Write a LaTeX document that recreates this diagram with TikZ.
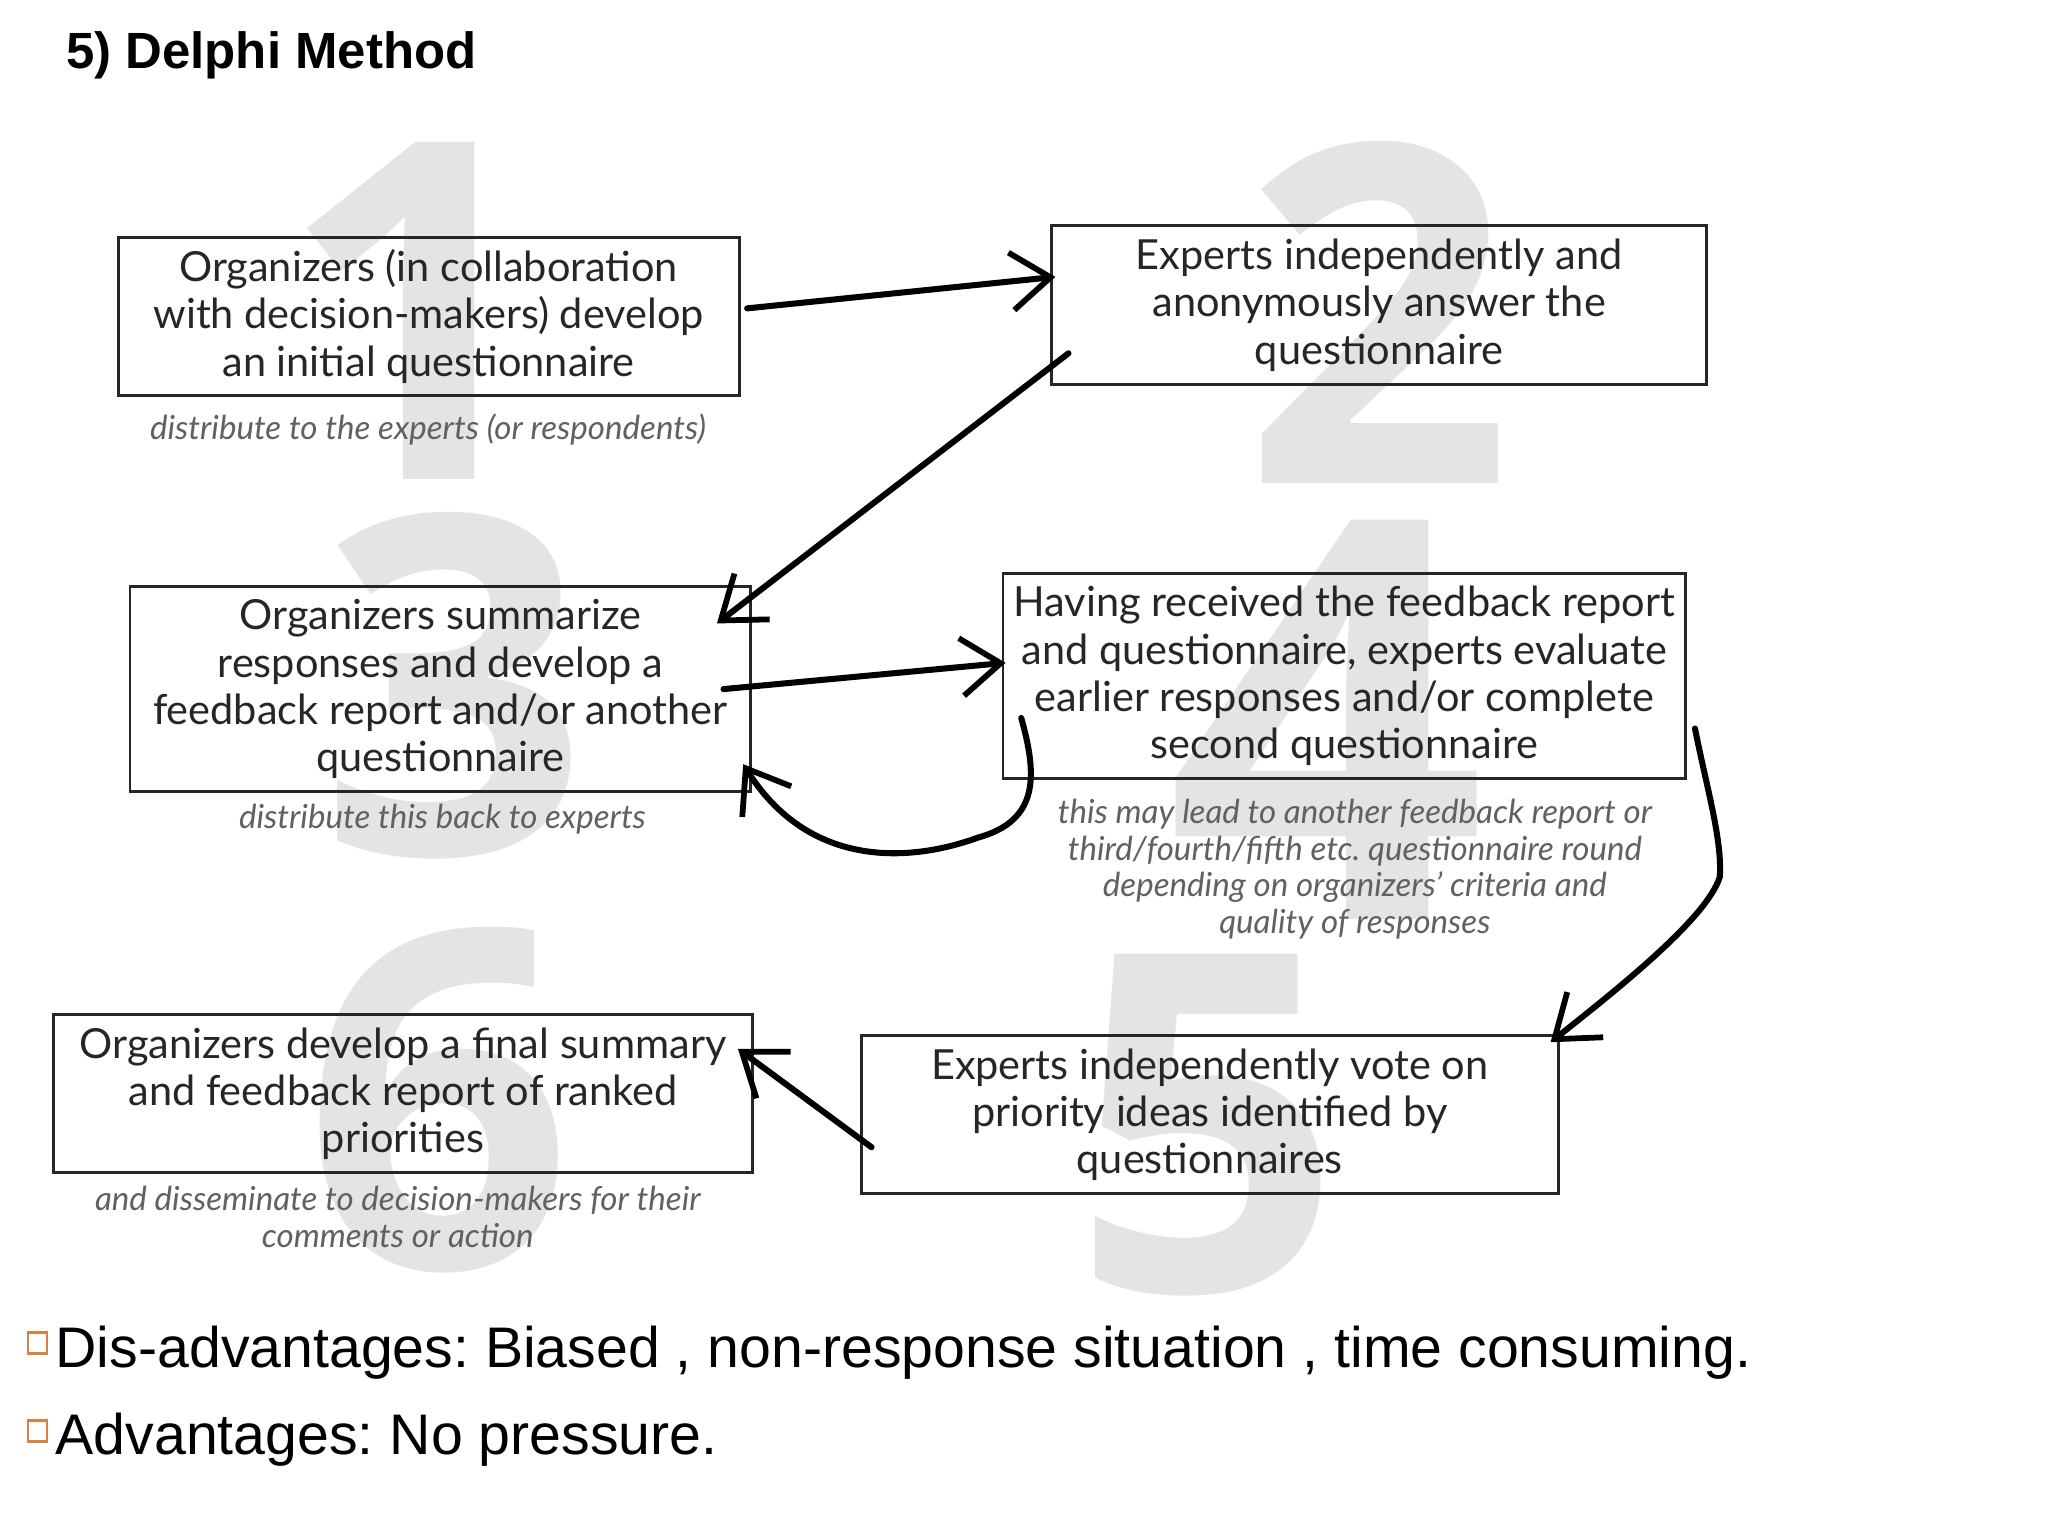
\documentclass[tikz,border=0pt]{standalone}
\usepackage{fontspec}
\setmainfont{Lato}
\newfontfamily\arialfont{Liberation Sans}
\newfontfamily\digitfont{Open Sans}
\usetikzlibrary{arrows.meta,calc}
\definecolor{bulletorange}{HTML}{D9823F}
\definecolor{digitgray}{HTML}{E4E4E4}
\frenchspacing
\begin{document}
\begin{tikzpicture}[x=0.5pt,y=-0.5pt,
  stepbox/.style={draw=black!85, line width=1.1pt, align=center, inner sep=0pt,
    text=black!85, font=\fontsize{15.8}{18}\selectfont},
  capt/.style={align=center, inner sep=0pt, text=black!62,
    font=\fontsize{12.6}{14}\selectfont\itshape},
  bigdigit/.style={inner sep=0pt, text=digitgray, font=\digitfont\bfseries\fontsize{180}{180}\selectfont},
  arr/.style={line width=2.3pt, line cap=round,
    -{Straight Barb[length=15pt,width=22pt,line width=2.2pt]}},
  bul/.style={draw=bulletorange, line width=0.8pt, inner sep=0pt, minimum width=7pt, minimum height=8pt},
  bottomtext/.style={anchor=base west, inner sep=0pt, font=\arialfont\fontsize{21.8}{26}\selectfont}
]
\useasboundingbox (0,0) rectangle (1560,1170);
\fill[white] (0,0) rectangle (1560,1170);

% background step numbers
\node[bigdigit] (n1) at (316,237) {1};
\node[bigdigit] (n2) at (1050,238) {2};
\node[bigdigit] (n3) at (346,522) {3};
\node[bigdigit, font=\digitfont\bfseries\fontsize{213}{213}\selectfont] (n4) at (1010,548) {4};
\node[bigdigit] (n5) at (920,857) {5};
\node[bigdigit] (n6) at (334,838) {6};

% title
\node[anchor=base west, inner sep=0pt, font=\arialfont\bfseries\fontsize{19.4}{23}\selectfont] (title) at (50,52) {5) Delphi Method};

% boxes
\node[stepbox, minimum width=236.5pt, minimum height=60pt] (b1) at (326.5,241)
  {Organizers (in collaboration\\with decision-makers) develop\\an initial questionnaire};
\node[stepbox, minimum width=249.5pt, minimum height=60.5pt] (b2) at (1050.5,232.5)
  {Experts independently and\\anonymously answer the\\questionnaire};
\node[stepbox, minimum width=236.5pt, minimum height=78pt] (b3) at (335.5,525)
  {Organizers summarize\\responses and develop a\\feedback report and/or another\\questionnaire};
\node[stepbox, minimum width=260pt, minimum height=78pt] (b4) at (1024,515)
  {Having received the feedback report\\and questionnaire, experts evaluate\\earlier responses and/or complete\\second questionnaire};
\node[stepbox, minimum width=265.5pt, minimum height=60pt] (b5) at (921.5,849)
  {Experts independently vote on\\priority ideas identified by\\questionnaires};
\node[stepbox, minimum width=266pt, minimum height=60pt] (b6) at (307,833)
  {Organizers develop a final summary\\and feedback report of ranked\\priorities};

% captions
\node[capt] (c1) at (326,327) {distribute to the experts (or respondents)};
\node[capt] (c3) at (337,624) {distribute this back to experts};
\node[capt] (c4) at (1032,662) {this may lead to another feedback report or\\third/fourth/fifth etc. questionnaire round\\depending on organizers’ criteria and\\quality of responses};
\node[capt] (c6) at (303,927) {and disseminate to decision-makers for their\\comments or action};

% arrows
\draw[arr] ($(b1.north east)+(5,55)$) -- ($(b2.north west)+(4,40)$);
\draw[arr] ($(b2.south west)+(14,-25)$) -- ($(b3.north east)+(-27,29)$);
\draw[arr] ($(b3.north east)+(-22,79)$) -- ($(b4.north west)+(3,69)$);
\draw[arr] ($(b4.north west)+(15,111)$) .. controls (790,590) and (792,625) .. (745,638)
  .. controls (690,658) and (615,660) .. ($(b3.south east)+(-7,-22)$);
\draw[arr] ($(b4.north east)+(6,119)$) .. controls (1300,600) and (1312,640) .. (1310,668)
  .. controls (1300,700) and (1230,755) .. ($(b5.north east)+(-7,6)$);
\draw[arr] ($(b5.north west)+(9,86)$) -- ($(b6.north east)+(-12,27)$);

% bottom bullets
\node[bul] (s1) at (28.5,1023) {};
\node[bottomtext] (t1) at (42,1042) {Dis-advantages: Biased , non-response situation , time consuming.};
\node[bul] (s2) at (28.5,1090) {};
\node[bottomtext] (t2) at (42,1108) {Advantages: No pressure.};
\end{tikzpicture}
\end{document}
